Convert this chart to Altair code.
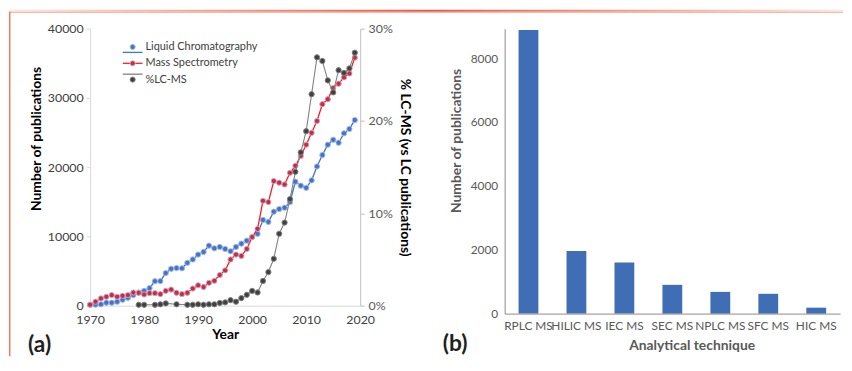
import altair as alt
import pandas as pd

# ---------------- data ----------------
years = list(range(1970, 2020))
lc_counts = [150, 150, 200, 430, 430, 570, 860, 1140, 1530, 1900,
             2140, 2530, 3530, 3550, 4710, 5330, 5430, 5400, 6190, 6670,
             7380, 7760, 8670, 8290, 8480, 8190, 7860, 8480, 8960, 9390,
             9910, 10380, 12380, 12100, 13570, 13960, 14150, 14960, 17900, 17330,
             17020, 18100, 20100, 21760, 23240, 23960, 23530, 24890, 25520, 26810]
ms_counts = [140, 570, 1050, 1290, 1530, 1290, 1430, 1530, 1900, 1860,
             1620, 1810, 1810, 1670, 2140, 2330, 1860, 1670, 1860, 2480,
             2950, 2700, 3300, 3600, 4430, 5100, 6670, 7380, 7190, 8190,
             9910, 11100, 15140, 14960, 18000, 17760, 17500, 19190, 20200, 21620,
             23240, 24960, 26670, 29100, 29810, 31430, 32050, 32960, 33530, 35810]
pct_years = [1979, 1980, 1982, 1983, 1984, 1986, 1988, 1989, 1990, 1991, 1992, 1993,
             1994, 1995, 1996, 1997, 1998, 1999, 2000, 2001, 2002, 2003, 2004, 2005,
             2006, 2007, 2008, 2009, 2010, 2011, 2012, 2013, 2014, 2015, 2016, 2017,
             2018, 2019]
pct_values = [0.1, 0.1, 0.1, 0.15, 0.25, 0.15, 0.1, 0.1, 0.15, 0.1, 0.15, 0.15,
              0.3, 0.36, 0.6, 0.43, 0.82, 1.18, 1.6, 1.43, 2.68, 3.64, 5.08, 7.79,
              9.0, 11.54, 14.5, 16.6, 18.9, 22.9, 26.9, 26.5, 24.4, 23.1, 25.5, 25.2,
              25.7, 27.4]
series_names = ["Liquid Chromatography", "Mass Spectrometry", "%LC-MS"]

x_ticks = [1970, 1980, 1990, 2000, 2010, 2020]
left_ticks = [0, 10000, 20000, 30000, 40000]
right_ticks = [0, 0.1, 0.2, 0.3]

techniques = ["RPLC MS", "HILIC MS", "IEC MS", "SEC MS", "NPLC MS", "SFC MS", "HIC MS"]
tech_counts = [8880, 1960, 1600, 900, 680, 620, 185]
bar_ticks = [0, 2000, 4000, 6000, 8000]

# ---------------- styles ----------------
FONT = "Lato"
LC_COL = "#4472c4"
MS_LINE = "#ff1a1a"
MS_FILL = "#e8202a"
HALO = "#9db8e6"
GR_LINE = "#808080"
GR_FILL = "#404040"
BAR_COL = "#3f6eb5"

df = pd.DataFrame({"year": years, "lc": lc_counts, "ms": ms_counts})
pdf = pd.DataFrame({"year": pct_years, "pct": [v / 100 for v in pct_values]})
leg_df = pd.DataFrame({"series": series_names, "row": [0, 1, 2]})
one = pd.DataFrame({"d": [0]})

x_enc = alt.X("year:Q", scale=alt.Scale(domain=[1970, 2020], nice=False),
              axis=alt.Axis(values=x_ticks, format="d", title="Year", ticks=False,
                            labelFlush=False, labelOverlap=False,
                            domainColor="#d9d9d9", labelColor="#404040", labelFontSize=12.5,
                            labelPadding=8, titleFontSize=14, titleFontWeight="bold",
                            titleColor="#000000", titlePadding=2))

left_scale = alt.Scale(domain=[0, 40000], nice=False)
right_scale = alt.Scale(domain=[0, 0.3], nice=False)

y_lc = alt.Y("lc:Q", scale=left_scale,
             axis=alt.Axis(orient="left", values=left_ticks, format="d",
                           title="Number of publications", domainColor="#d9d9d9",
                           tickColor="#d9d9d9", tickSize=4, labelColor="#404040",
                           labelFontSize=12.5, labelPadding=3, labelFlush=False,
                           titleFontSize=14,
                           titleFontWeight="bold", titleColor="#000000",
                           titleX=-47, titleY=111))
y_lc_pts = alt.Y("lc:Q", scale=left_scale, axis=None)
y_ms = alt.Y("ms:Q", scale=left_scale, axis=None)
y_pct = alt.Y("pct:Q", scale=right_scale,
              axis=alt.Axis(orient="right", values=right_ticks, format=".0%",
                            title="% LC-MS (vs LC publications)", domainColor="#bfbfbf",
                            tickColor="#bfbfbf", tickSize=4, labelColor="#595959",
                            labelFontSize=12.5, labelPadding=4, labelFlush=False,
                            titleFontSize=14,
                            titleFontWeight="bold", titleColor="#000000",
                            titleAngle=90, titleBaseline="bottom", titleX=38, titleY=140))
y_pct_pts = alt.Y("pct:Q", scale=right_scale, axis=None)

lc_line = alt.Chart(df).mark_line(color=LC_COL, strokeWidth=1.3).encode(x=x_enc, y=y_lc)
lc_pts = alt.Chart(df).mark_point(filled=True, fill=LC_COL, stroke=HALO, strokeWidth=1,
                                  size=28, opacity=1).encode(x=x_enc, y=y_lc_pts)
ms_line = alt.Chart(df).mark_line(color=MS_LINE, strokeWidth=1.3).encode(x=x_enc, y=y_ms)
ms_pts = alt.Chart(df).mark_point(filled=True, fill=MS_FILL, stroke=HALO, strokeWidth=1,
                                  size=28, opacity=1).encode(x=x_enc, y=y_ms)
gr_line = alt.Chart(pdf).mark_line(color=GR_LINE, strokeWidth=1.1).encode(x=x_enc, y=y_pct)
gr_pts = alt.Chart(pdf).mark_point(filled=True, fill=GR_FILL, stroke=GR_LINE, strokeWidth=1,
                                   size=28, opacity=1).encode(x=x_enc, y=y_pct_pts)

# manual legend
leg_y = alt.Y("row:O", axis=None, scale=alt.Scale(domain=[0, 1, 2], range=[18.5, 51.5], padding=0))
leg_rule = alt.Chart(leg_df).mark_rule(strokeWidth=1.3).encode(
    x=alt.value(33), x2=alt.value(53), y=leg_y,
    color=alt.Color("series:N", legend=None,
                    scale=alt.Scale(domain=series_names, range=[LC_COL, MS_LINE, GR_LINE])))
leg_pts = alt.Chart(leg_df).mark_point(filled=True, size=26, strokeWidth=1, opacity=1).encode(
    x=alt.value(43), y=leg_y,
    fill=alt.Fill("series:N", legend=None,
                  scale=alt.Scale(domain=series_names, range=[LC_COL, MS_FILL, GR_FILL])),
    stroke=alt.Stroke("series:N", legend=None,
                      scale=alt.Scale(domain=series_names, range=[HALO, HALO, GR_LINE])))
leg_txt = alt.Chart(leg_df).mark_text(align="left", baseline="middle", fontSize=11,
                                      color="#404040", font=FONT).encode(
    x=alt.value(56), y=leg_y, text="series:N")

# decorations
grad = alt.LinearGradient(gradient="linear", x1=0, x2=1, y1=0, y2=0,
                          stops=[alt.GradientStop(color="#fde8e0", offset=0),
                                 alt.GradientStop(color="#e8553a", offset=0.5),
                                 alt.GradientStop(color="#fde8e0", offset=1)])
top_band = alt.Chart(one).mark_rect(color=grad).encode(
    x=alt.value(-82), x2=alt.value(761), y=alt.value(-19), y2=alt.value(-17))
top_line = alt.Chart(one).mark_rule(color="#f3a898", strokeWidth=1).encode(
    x=alt.value(-82), x2=alt.value(761), y=alt.value(-16.5))
left_line = alt.Chart(one).mark_rule(color="#f07c60", strokeWidth=1.5).encode(
    x=alt.value(-81.25), y=alt.value(-17), y2=alt.value(331))
label_a = alt.Chart(one).mark_text(text="(a)", fontSize=23, fontWeight="bold", font=FONT,
                                   color="#231f20", align="center", baseline="middle").encode(
    x=alt.value(-51), y=alt.value(320))

left = alt.layer(top_band, top_line, left_line,
                 lc_line, lc_pts, ms_line, ms_pts, gr_line, gr_pts,
                 leg_rule, leg_pts, leg_txt, label_a).resolve_scale(
    y="independent", color="independent", fill="independent", stroke="independent"
).properties(width=273, height=280)

bar_df = pd.DataFrame({"technique": techniques, "count": tech_counts})
bars = alt.Chart(bar_df).mark_bar(color=BAR_COL).encode(
    x=alt.X("technique:N", sort=techniques,
            scale=alt.Scale(paddingInner=0.587, paddingOuter=0.29),
            axis=alt.Axis(title="Analytical technique", labelAngle=0, ticks=False,
                          domainColor="#8c8c8c", labelColor="#595959", labelFontSize=12,
                          labelPadding=7, labelOverlap=False, titleColor="#595959",
                          titleFontSize=14, titleFontWeight="bold", titleX=189, titleY=25,
                          titleBaseline="top")),
    y=alt.Y("count:Q", scale=alt.Scale(domain=[0, 8920], nice=False),
            axis=alt.Axis(values=bar_ticks, format="d", ticks=False, domainColor="#8c8c8c",
                          labelColor="#595959", labelFontSize=12, labelPadding=7,
                          labelFlush=False,
                          title="Number of publications", titleColor="#595959",
                          titleFontSize=14, titleFontWeight="bold", titleX=-42, titleY=113)))
label_b = alt.Chart(one).mark_text(text="(b)", fontSize=23, fontWeight="bold", font=FONT,
                                   color="#231f20", align="center", baseline="middle").encode(
    x=alt.value(-50), y=alt.value(319))
right = alt.layer(bars, label_b).properties(width=339, height=288)

chart = alt.hconcat(left, right, spacing=146, bounds="flush").properties(
    padding=0
).configure_view(stroke=None).configure_axis(grid=False, labelFont=FONT, titleFont=FONT
).configure_text(font=FONT)

chart.save("out.html", embed_options={"renderer": "svg", "actions": False})
